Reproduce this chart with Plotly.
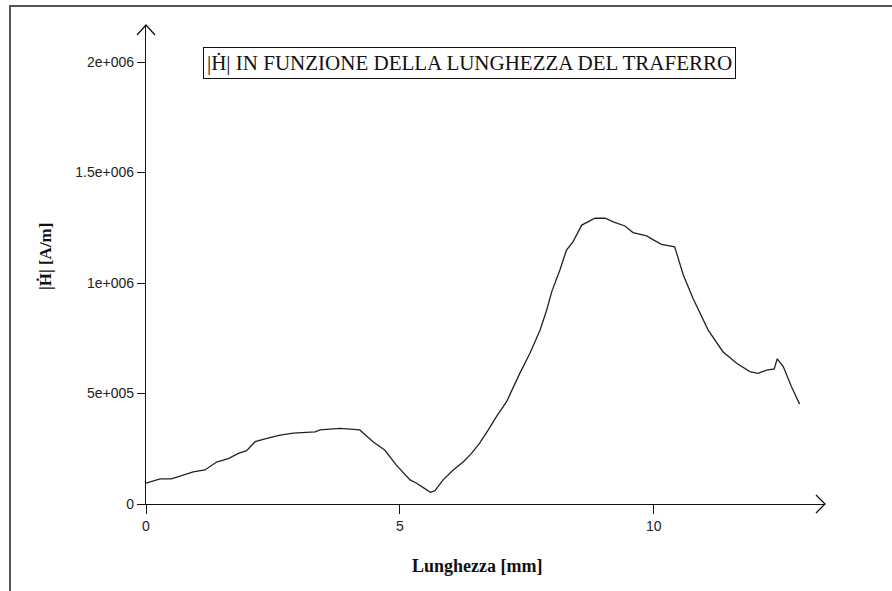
import plotly.graph_objects as go

# Data
lunghezza_mm = [0, 0.28, 0.5, 0.73, 0.93, 1.16, 1.39, 1.62, 1.82, 1.98, 2.15, 2.38, 2.64, 2.9,
                3.33, 3.43, 3.82, 4.21, 4.47, 4.7, 4.93, 5.2, 5.33, 5.46, 5.6, 5.69, 5.85, 6.05,
                6.25, 6.41, 6.57, 6.74, 6.9, 7.1, 7.23, 7.36, 7.56, 7.76, 7.89, 7.99, 8.15, 8.28,
                8.41, 8.58, 8.84, 9.04, 9.2, 9.43, 9.59, 9.86, 9.99, 10.15, 10.41, 10.58, 10.77,
                11.07, 11.36, 11.63, 11.89, 12.05, 12.22, 12.37, 12.43, 12.55, 12.71, 12.87]
H_kA_m = [94, 114, 114, 130, 145, 154, 190, 205, 229, 241, 282, 297, 312, 321,
          326, 335, 342, 335, 282, 244, 176, 109, 94, 74, 53, 60, 109, 154,
          191, 229, 275, 335, 395, 463, 531, 591, 682, 787, 878, 961, 1059, 1149,
          1187, 1262, 1293, 1293, 1277, 1258, 1228, 1213, 1195, 1175, 1164, 1036, 931,
          787, 689, 637, 599, 591, 606, 611, 657, 621, 531, 452]
H_values = [v * 1000 for v in H_kA_m]

x_tickvals = [0, 5, 10]
x_ticktext = ["0", "5", "10"]
y_tickvals = [0, 500000, 1000000, 1500000, 2000000]
y_ticktext = ["0", "5e+005", "1e+006", "1.5e+006", "2e+006"]

title_text = "|Ḣ| IN FUNZIONE DELLA LUNGHEZZA DEL TRAFERRO"
x_title = "Lunghezza [mm]"
y_title = "|Ḣ| [A/m]"

W, H = 892, 591
L, R, T, B = 146, 67, 25, 87
pw = W - L - R
ph = H - T - B

def px_x(p):
    return (p - L) / pw

def px_y(p):
    return (H - B - p) / ph

fig = go.Figure()
fig.add_trace(go.Scatter(x=lunghezza_mm, y=H_values, mode="lines",
                         line=dict(color="#222222", width=1.3), showlegend=False,
                         hoverinfo="skip"))

axis_font = dict(family="Liberation Sans", size=14, color="#222222")
fig.update_xaxes(range=[0, 13.37], tickvals=x_tickvals, ticktext=x_ticktext,
                 showgrid=False, zeroline=False, showline=True, linecolor="#111111",
                 linewidth=1.3, ticks="outside", ticklen=9, tickcolor="#111111",
                 tickwidth=1.2, tickfont=axis_font, fixedrange=True)
fig.update_yaxes(range=[0, 2.1674e6], tickvals=y_tickvals, ticktext=y_ticktext,
                 showgrid=False, zeroline=False, showline=True, linecolor="#111111",
                 linewidth=1.3, ticks="outside", ticklen=8, tickcolor="#111111",
                 tickwidth=1.2, tickfont=axis_font, fixedrange=True)

shapes = []
# arrow heads on axes
ax_dx = 9 / pw
ax_dy = 9 / ph
shapes.append(dict(type="path", xref="paper", yref="paper",
                   path=f"M {1-ax_dx},{ax_dy} L 1,0 L {1-ax_dx},{-ax_dy}",
                   line=dict(color="#111111", width=1.3)))
ay_dx = 9 / pw
ay_dy = 10 / ph
shapes.append(dict(type="path", xref="paper", yref="paper",
                   path=f"M {-ay_dx},{1-ay_dy} L 0,1 L {ay_dx},{1-ay_dy}",
                   line=dict(color="#111111", width=1.3)))
# outer frame (left and top edges visible)
shapes.append(dict(type="path", xref="paper", yref="paper",
                   path=f"M {px_x(10)},{px_y(600)} L {px_x(10)},{px_y(6)} L {px_x(900)},{px_y(6)}",
                   line=dict(color="#555555", width=2)))

annotations = [
    dict(text=title_text, xref="paper", yref="paper", x=px_x(469.5), y=px_y(62.5),
         xanchor="center", yanchor="middle", showarrow=False,
         font=dict(family="Liberation Serif", size=21, color="#111111"),
         bordercolor="#111111", borderwidth=1, borderpad=3, bgcolor="white"),
    dict(text=f"<b>{x_title}</b>", xref="paper", yref="paper", x=px_x(477), y=px_y(566),
         xanchor="center", yanchor="middle", showarrow=False,
         font=dict(family="Liberation Serif", size=18, color="#111111")),
    dict(text=f"<b>{y_title}</b>", xref="paper", yref="paper", x=px_x(45), y=px_y(257),
         xanchor="center", yanchor="middle", showarrow=False, textangle=-90,
         font=dict(family="Liberation Serif", size=17, color="#111111")),
]

fig.update_layout(width=W, height=H, margin=dict(l=L, r=R, t=T, b=B),
                  paper_bgcolor="white", plot_bgcolor="white",
                  shapes=shapes, annotations=annotations)

fig.write_html("out.html", config={"displayModeBar": False},
               post_script="document.body.style.margin='0';document.body.style.overflow='hidden';")
